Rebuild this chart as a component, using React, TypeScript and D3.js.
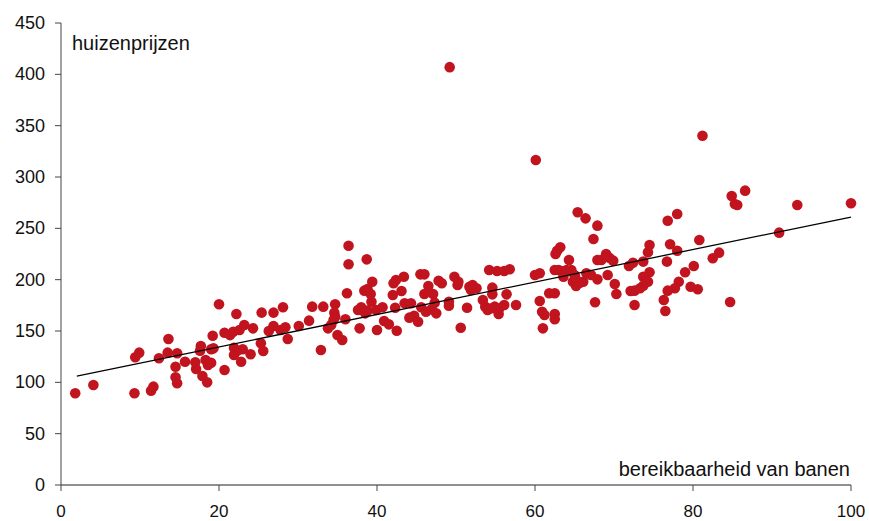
import React from "react";
import * as d3 from "d3";

const xValues: number[] = [
  1.8, 4.1, 9.3, 9.4, 9.9, 11.4, 11.7, 12.4, 13.6, 13.5, 14.7, 14.5, 14.5, 14.7, 15.7, 17.0, 17.1, 17.7, 17.6, 17.9,
  18.5, 18.3, 18.6, 19.0, 19.0, 19.3, 19.2, 20.0, 20.7, 20.7, 21.4, 21.8, 22.6, 22.2, 23.2, 21.9, 22.3, 21.9, 23.0, 22.8,
  24.0, 24.3,
  25.4, 26.9, 28.1, 25.3, 25.6, 26.3, 26.9, 27.8, 28.4, 28.7, 30.1, 31.4, 31.8, 33.2, 32.9, 34.7, 34.6, 34.7, 34.5, 33.8,
  34.2, 35.0, 35.6, 36.0, 36.2, 36.4, 36.4, 38.7, 37.8, 37.6, 38.0, 38.5, 38.8, 38.4, 38.8, 39.4, 39.2, 39.3, 40.0, 39.9,
  40.7, 40.9, 41.5, 42.5, 42.0, 42.1, 42.4, 43.4, 43.1, 42.3, 43.5, 44.3, 44.1, 44.7, 45.2, 45.5, 46.0, 46.0, 46.5, 47.1,
  45.6, 46.2, 46.9, 47.5, 47.8,
  49.2, 60.1, 47.3, 48.2, 49.1, 49.1, 49.8, 50.3, 50.2, 50.6, 51.4, 51.7, 52.1, 52.6, 51.9, 53.4, 53.7, 54.0, 54.5, 54.9,
  55.5, 56.1, 55.4, 54.2, 55.2, 56.1, 56.8, 54.6, 54.6, 56.4, 57.6, 60.0, 60.6, 60.6, 60.9, 61.2, 61.0, 61.8, 62.5, 62.5,
  62.5, 62.5, 63.0, 62.6, 62.8, 63.2, 63.5, 64.0, 64.3, 64.6, 65.0, 63.6, 64.8, 65.2, 65.7, 66.1, 65.1, 65.4, 66.4, 67.9,
  67.4, 66.5, 67.1, 67.9, 67.6, 67.9, 68.4, 69.0, 69.4, 69.9, 69.2, 70.1, 70.3, 71.9, 72.4, 72.1, 72.6, 72.6,
  81.2, 84.9, 85.3, 85.6, 86.6, 93.2, 100.0, 90.9, 76.8, 78.0, 80.8, 74.5, 74.3, 77.1, 78.0, 73.7, 76.7, 83.3, 82.5, 80.1,
  79.0, 73.7, 74.5, 74.3, 73.7, 73.3, 78.2, 77.7, 76.8, 79.7, 80.6, 76.3, 76.5, 84.7,
];

const yValues: number[] = [
  89.3, 97.4, 89.3, 124.4, 128.9, 91.9, 95.8, 123.4, 142.2, 128.9, 128.3, 115.2, 104.9, 99.1, 120.1, 119.5, 113.0, 135.4, 130.8, 106.2,
  100.0, 121.8, 116.9, 119.1, 132.2, 133.1, 145.4, 176.0, 112.0, 148.3, 146.0, 149.3, 151.0, 166.6, 155.8, 133.7, 130.8, 126.6, 132.2, 120.1,
  127.3, 152.6,
  167.9, 167.9, 173.1, 138.0, 130.5, 150.0, 154.9, 151.0, 153.6, 142.2, 154.9, 160.1, 173.7, 173.7, 131.5, 176.0, 167.8, 163.9, 160.7, 152.6,
  155.8, 146.1, 141.2, 161.4, 186.7, 233.1, 215.0, 219.8, 152.6, 170.4, 173.1, 167.2, 169.8, 189.3, 190.9, 198.0, 186.0, 178.5, 151.0, 170.4,
  173.1, 159.7, 156.5, 150.3, 185.1, 196.5, 199.7, 202.9, 189.0, 172.7, 177.0, 177.0, 163.0, 164.9, 159.0, 205.2, 205.2, 186.0, 193.8, 186.0,
  173.1, 168.8, 171.1, 167.2, 199.0,
  407.0, 316.5, 177.6, 196.5, 178.5, 174.6, 202.9, 198.0, 194.8, 153.2, 172.7, 193.1, 194.8, 191.6, 189.9, 180.2, 173.7, 170.4, 172.1, 173.7,
  172.1, 175.3, 166.6, 209.4, 208.4, 208.4, 210.1, 192.2, 185.7, 185.7, 175.3, 204.5, 206.2, 179.2, 168.8, 165.6, 152.6, 186.7, 186.7, 166.6,
  161.4, 209.4, 209.4, 225.0, 228.2, 231.5, 207.8, 209.4, 219.2, 209.4, 204.5, 202.9, 198.0, 193.8, 197.0, 198.0, 202.3, 265.6, 259.7, 252.6,
  239.6, 206.2, 204.5, 200.3, 178.0, 219.2, 219.2, 225.0, 221.4, 218.5, 204.5, 195.8, 186.0, 213.3, 216.5, 189.0, 189.3, 175.3,
  340.2, 281.5, 273.7, 272.7, 286.7, 272.7, 274.4, 245.8, 257.4, 264.0, 238.6, 233.8, 226.6, 234.5, 228.2, 217.6, 217.6, 226.3, 220.8, 213.3,
  207.2, 202.9, 207.2, 198.0, 194.1, 191.6, 198.0, 191.6, 189.3, 193.1, 190.6, 180.2, 169.5, 178.2,
];

const trendX: number[] = [2, 100];
const trendY: number[] = [106, 261];

const xTicks: number[] = [0, 20, 40, 60, 80, 100];
const yTicks: number[] = [0, 50, 100, 150, 200, 250, 300, 350, 400, 450];

const yLabel = "huizenprijzen";
const xLabel = "bereikbaarheid van banen";

const FONT = "'Liberation Sans', Arial, Helvetica, sans-serif";
const RED = "#c1141f";
const AXIS = "#444";

export default function App() {
  const x = d3.scaleLinear().domain([0, 100]).range([61, 851]);
  const y = d3.scaleLinear().domain([0, 450]).range([485, 23]);
  const points = xValues.map((v, i) => ({ x: v, y: yValues[i] }));
  const trend = trendX.map((v, i) => ({ x: v, y: trendY[i] }));
  const line = d3
    .line<{ x: number; y: number }>()
    .x((d) => x(d.x))
    .y((d) => y(d.y));

  return (
    <svg
      width={869}
      height={521}
      style={{ position: "absolute", left: 0, top: 0, background: "#fff" }}
      fontFamily={FONT}
    >
      <rect width={869} height={521} fill="#fff" />
      <line x1={x(0)} x2={x(0)} y1={y(450)} y2={y(0)} stroke={AXIS} strokeWidth={1} />
      <line x1={x(0)} x2={x(100)} y1={y(0)} y2={y(0)} stroke="#222" strokeWidth={1} />
      {yTicks.map((t) => (
        <g key={"y" + t}>
          <line x1={x(0) - 6} x2={x(0)} y1={y(t)} y2={y(t)} stroke={AXIS} />
          <text
            x={45}
            y={y(t)}
            textAnchor="end"
            dominantBaseline="central"
            fontSize={18}
            fill="#111"
          >
            {t}
          </text>
        </g>
      ))}
      {xTicks.map((t) => (
        <g key={"x" + t}>
          <line x1={x(t)} x2={x(t)} y1={y(0)} y2={y(0) + 6} stroke={AXIS} />
          <text x={x(t)} y={517} textAnchor="middle" fontSize={17} fill="#111">
            {t}
          </text>
        </g>
      ))}
      <text x={72} y={50} fontSize={20} fill="#111">
        {yLabel}
      </text>
      <text x={850} y={476} textAnchor="end" fontSize={20} fill="#111">
        {xLabel}
      </text>
      {points.map((p, i) => (
        <circle key={i} cx={x(p.x)} cy={y(p.y)} r={5.3} fill={RED} />
      ))}
      <path d={line(trend) || ""} fill="none" stroke="#000" strokeWidth={1.3} />
    </svg>
  );
}
